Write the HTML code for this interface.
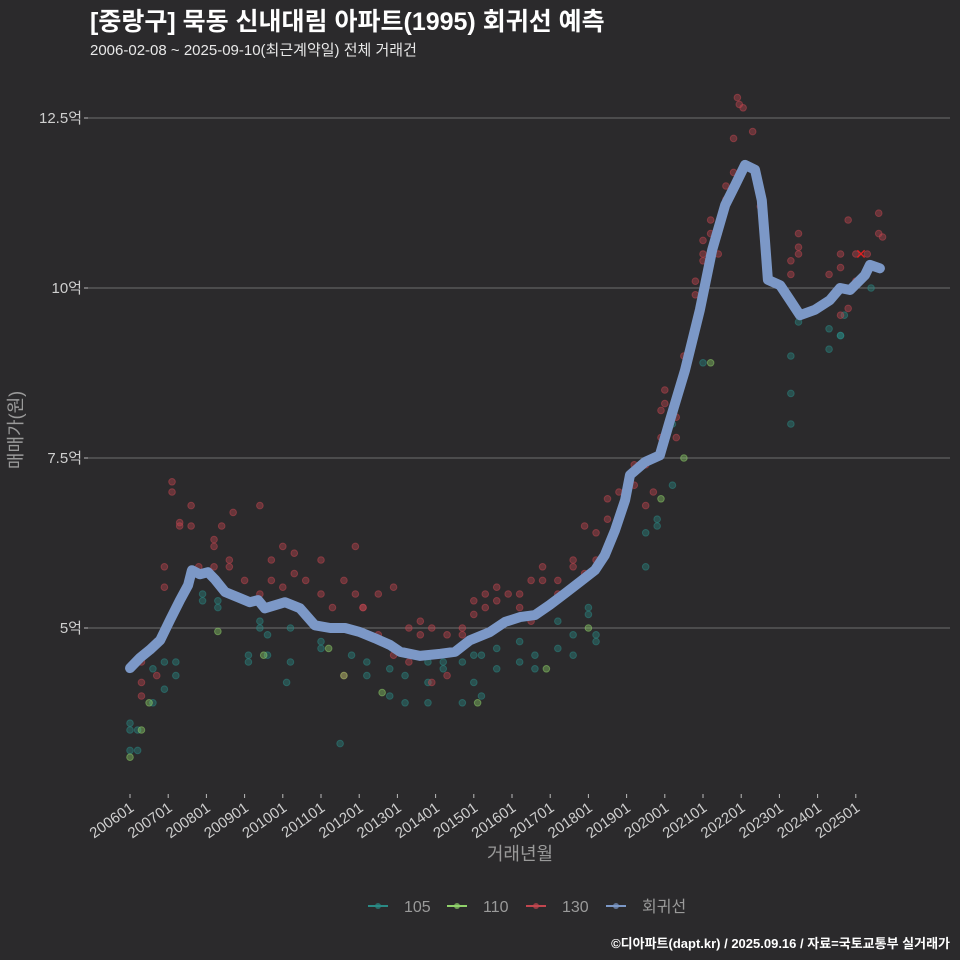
<!DOCTYPE html>
<html><head><meta charset="utf-8">
<style>
html,body{margin:0;padding:0;background:#2b2a2c;}
svg{display:block;font-family:"Liberation Sans","Noto Sans CJK KR",sans-serif;}
</style></head>
<body>
<svg id="chart" width="960" height="960" viewBox="0 0 960 960">
<rect width="960" height="960" fill="#2b2a2c"/>
<text x="90" y="30" fill="#ffffff" font-size="25" font-weight="bold">[중랑구] 묵동 신내대림 아파트(1995) 회귀선 예측</text>
<text x="90" y="55" fill="#e8e8e8" font-size="15">2006-02-08 ~ 2025-09-10(최근계약일) 전체 거래건</text>
<g id="grid"></g><g id="pts"></g><g id="line"></g><g id="axes"></g>
<text x="520" y="860" fill="#9a9a9a" font-size="18" text-anchor="middle">거래년월</text>
<text transform="translate(22,430) rotate(-90)" fill="#9a9a9a" font-size="18" text-anchor="middle">매매가(원)</text>
<g id="legend"></g>
<text x="950" y="948" fill="#ffffff" font-size="13" font-weight="bold" text-anchor="end">©디아파트(dapt.kr) / 2025.09.16 / 자료=국토교통부 실거래가</text>
</svg>
<script>
const yTicks=[5,7.5,10,12.5];
const yTickLabels=["5억","7.5억","10억","12.5억"];
const xTicks=[2006,2007,2008,2009,2010,2011,2012,2013,2014,2015,2016,2017,2018,2019,2020,2021,2022,2023,2024,2025];
const xTickLabels=["200601","200701","200801","200901","201001","201101","201201","201301","201401","201501","201601","201701","201801","201901","202001","202101","202201","202301","202401","202501"];
const regT=[2006.0,2006.26,2006.52,2006.79,2007.05,2007.31,2007.52,2007.62,2007.83,2008.04,2008.23,2008.49,2008.88,2009.14,2009.35,2009.53,2010.06,2010.45,2010.84,2011.24,2011.63,2012.02,2012.41,2012.81,2013.07,2013.59,2014.12,2014.51,2014.9,2015.42,2015.82,2016.21,2016.6,2016.99,2017.39,2017.78,2018.17,2018.43,2018.7,2018.96,2019.09,2019.48,2019.87,2020.14,2020.53,2020.92,2021.24,2021.58,2021.84,2022.1,2022.36,2022.54,2022.62,2022.7,2023.02,2023.28,2023.54,2023.93,2024.32,2024.59,2024.85,2025.24,2025.37,2025.63];
const regV=[4.41,4.56,4.68,4.82,5.12,5.41,5.63,5.85,5.79,5.82,5.71,5.53,5.44,5.38,5.41,5.29,5.38,5.29,5.04,5.0,5.0,4.94,4.85,4.75,4.65,4.59,4.62,4.65,4.82,4.94,5.09,5.16,5.19,5.34,5.51,5.68,5.85,6.07,6.44,6.88,7.25,7.44,7.54,8.06,8.79,9.68,10.56,11.22,11.51,11.81,11.74,11.29,10.71,10.12,10.04,9.82,9.6,9.68,9.82,10.0,9.97,10.19,10.34,10.29];
const s130T=[2006.3,2006.3,2006.3,2006.3,2006.7,2006.7,2006.9,2006.9,2007.1,2007.1,2007.3,2007.3,2007.6,2007.6,2007.8,2008.2,2008.2,2008.2,2008.4,2008.6,2008.6,2008.7,2009.0,2009.4,2009.4,2009.7,2009.7,2010.0,2010.0,2010.3,2010.3,2010.6,2011.0,2011.0,2011.3,2011.6,2011.6,2011.9,2011.9,2012.1,2012.1,2012.5,2012.5,2012.9,2012.9,2013.3,2013.3,2013.6,2013.6,2013.9,2013.9,2014.3,2014.3,2014.7,2014.7,2015.0,2015.0,2015.3,2015.3,2015.6,2015.6,2015.9,2016.2,2016.2,2016.5,2016.5,2016.8,2016.8,2017.2,2017.2,2017.6,2017.6,2017.9,2017.9,2018.2,2018.2,2018.5,2018.5,2018.8,2019.2,2019.2,2019.5,2019.5,2019.7,2019.9,2019.9,2020.0,2020.0,2020.3,2020.3,2020.5,2020.5,2020.8,2020.8,2021.0,2021.0,2021.0,2021.2,2021.2,2021.4,2021.4,2021.6,2021.6,2021.8,2021.8,2021.9,2021.95,2022.05,2022.3,2022.5,2023.3,2023.5,2023.5,2023.5,2023.3,2024.3,2024.3,2024.6,2024.6,2024.6,2024.8,2024.8,2025.0,2025.0,2025.3,2025.6,2025.6,2025.7];
const s130V=[4.0,4.2,4.6,4.5,4.3,4.8,5.9,5.6,7.0,7.15,6.5,6.55,6.8,6.5,5.9,6.2,6.3,5.9,6.5,5.9,6.0,6.7,5.7,6.8,5.5,6.0,5.7,6.2,5.6,6.1,5.8,5.7,6.0,5.5,5.3,5.7,4.3,6.2,5.5,5.3,5.3,5.5,4.9,4.6,5.6,5.0,4.5,5.1,4.9,5.0,4.2,4.9,4.3,5.0,4.9,5.2,5.4,5.3,5.5,5.6,5.4,5.5,5.3,5.5,5.7,5.1,5.7,5.9,5.5,5.7,5.9,6.0,6.5,5.8,6.4,6.0,6.6,6.9,7.0,7.4,7.1,7.4,6.8,7.0,7.8,8.2,8.3,8.5,8.1,7.8,9.0,8.7,9.9,10.1,10.4,10.5,10.7,10.8,11.0,10.5,10.8,11.3,11.5,12.2,11.7,12.8,12.7,12.65,12.3,11.2,10.4,10.8,10.6,10.5,10.2,10.2,9.8,10.5,10.3,9.6,11.0,9.7,10.5,10.1,10.5,11.1,10.8,10.75];
const s105T=[2006.0,2006.0,2006.0,2006.2,2006.2,2006.6,2006.6,2006.9,2006.9,2007.2,2007.2,2007.9,2007.9,2008.3,2008.3,2009.1,2009.1,2009.4,2009.4,2009.6,2009.6,2010.1,2010.2,2010.2,2011.0,2011.0,2011.5,2011.8,2012.2,2012.2,2012.8,2012.8,2013.2,2013.2,2013.8,2013.8,2013.8,2014.2,2014.2,2014.7,2014.7,2015.0,2015.0,2015.2,2015.2,2015.6,2015.6,2016.2,2016.2,2016.6,2016.6,2017.2,2017.2,2017.6,2017.6,2018.0,2018.0,2018.2,2018.2,2019.5,2019.5,2019.8,2019.8,2020.2,2020.2,2021.0,2023.3,2023.3,2023.3,2023.5,2024.3,2024.3,2024.6,2024.6,2024.7,2025.4];
const s105V=[3.6,3.5,3.2,3.5,3.2,3.9,4.4,4.5,4.1,4.5,4.3,5.4,5.5,5.4,5.3,4.5,4.6,5.1,5.0,4.6,4.9,4.2,5.0,4.5,4.7,4.8,3.3,4.6,4.5,4.3,4.0,4.4,3.9,4.3,3.9,4.2,4.5,4.5,4.4,3.9,4.5,4.2,4.6,4.0,4.6,4.4,4.7,4.5,4.8,4.6,4.4,4.7,5.1,4.6,4.9,5.2,5.3,4.9,4.8,5.9,6.4,6.5,6.6,7.1,8.0,8.9,9.0,8.45,8.0,9.5,9.4,9.1,9.3,9.3,9.6,10.0];
const s110T=[2006.0,2006.3,2006.5,2008.3,2009.5,2011.2,2011.6,2012.6,2015.1,2016.9,2018.0,2019.9,2020.5,2021.2];
const s110V=[3.1,3.5,3.9,4.95,4.6,4.7,4.3,4.05,3.9,4.4,5.0,6.9,7.5,8.9];

const NS="http://www.w3.org/2000/svg";
const X0=88,X1=950;
function xs(t){return 130+(t-2006)*38.2;}
function ys(v){return 628-(v-5)*68;}
function mk(tag,attrs,parent){const e=document.createElementNS(NS,tag);for(const k in attrs)e.setAttribute(k,attrs[k]);parent.appendChild(e);return e;}
const grid=document.getElementById('grid'),axes=document.getElementById('axes');
yTicks.forEach((v,i)=>{
  const l=mk('line',{x1:X0,x2:X1,y1:ys(v),y2:ys(v),stroke:'#6e6e6e','stroke-width':1},grid);
  
  
  const tk=mk('line',{x1:X0-4,x2:X0,y1:ys(v),y2:ys(v),stroke:'#bbb','stroke-width':1},axes);
  
  
  const t=mk('text',{x:X0-6,y:ys(v)+5,fill:'#cfcfcf','font-size':15,'text-anchor':'end'},axes);
  t.textContent=yTickLabels[i];
  
  
});
xTicks.forEach((yr,i)=>{
  const x=xs(yr);
  const tk=mk('line',{x1:x,x2:x,y1:794,y2:798,stroke:'#bbb','stroke-width':1},axes);
  
  
  const t=mk('text',{transform:`translate(${x+5},${810}) rotate(-35)`,fill:'#cfcfcf','font-size':15,'text-anchor':'end'},axes);
  t.textContent=xTickLabels[i];
  
  
});
const pts=document.getElementById('pts');
function scatter(T,V,col,name){
  T.forEach((t,i)=>{
    const c=mk('circle',{cx:xs(t),cy:ys(V[i]),r:3.3,fill:col,'fill-opacity':0.4,stroke:col,'stroke-opacity':0.5},pts);
    
    
  });
}
scatter(s105T,s105V,'#2a8a85','point-105');
scatter(s130T,s130V,'#c2464f','point-130');
scatter(s110T,s110V,'#8fd16a','point-110');
const lg=document.getElementById('line');
const d=regT.map((t,i)=>(i?'L':'M')+xs(t).toFixed(1)+','+ys(regV[i]).toFixed(1)).join(' ');
const p=mk('path',{d:d,fill:'none',stroke:'#7c98c7','stroke-width':10,'stroke-linejoin':'round','stroke-linecap':'round'},lg);


const lx=mk('text',{x:861,y:259,fill:'#e02020','font-size':14,'text-anchor':'middle'},lg);
lx.textContent='✕';


const leg=document.getElementById('legend');
const items=[['105','#2a8a85',368],['110','#8fd16a',447],['130','#c2464f',526],['회귀선','#7c98c7',606]];
items.forEach(([lab,col,x])=>{
  const g=mk('g',{},leg);
  
  
  mk('line',{x1:x,x2:x+20,y1:906,y2:906,stroke:col,'stroke-width':2},g);
  mk('circle',{cx:x+10,cy:906,r:3,fill:col,'fill-opacity':0.7},g);
  const t=mk('text',{x:x+36,y:912,fill:'#9a9a9a','font-size':16},g);
  t.textContent=lab;
});
</script>
</body></html>
